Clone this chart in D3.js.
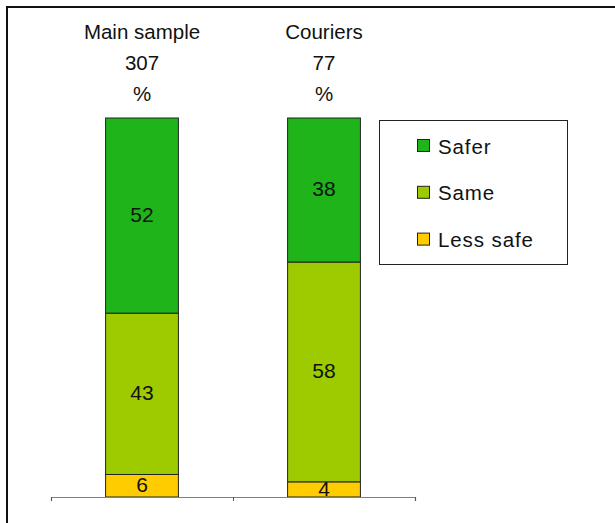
<!DOCTYPE html>
<html>
<head>
<meta charset="utf-8">
<script src="https://cdn.jsdelivr.net/npm/d3@7/dist/d3.min.js"></script>
<style>
  html, body { margin: 0; padding: 0; background: #fff; }
  svg { display: block; font-family: "Liberation Sans", Arial, sans-serif; }
</style>
</head>
<body>
<svg id="chart" width="615" height="523"></svg>
<script>
// Groups shown along the category axis
const groups = ["Main sample", "Couriers"];
const groupBase = ["307", "77"];
// Answer categories, stacked bottom to top
const answers = ["Less safe", "Same", "Safer"];
// Percentages per group, in the order of `answers`
const lessSafe = [6, 4];
const same = [43, 58];
const safer = [52, 38];
const colors = ["#FFCC00", "#9DCB00", "#1FB419"];

const rows = groups.map((g, i) => ({
  group: g,
  "Less safe": lessSafe[i],
  "Same": same[i],
  "Safer": safer[i]
}));

const svg = d3.select("#chart");

// Outer frame
svg.append("rect")
  .attr("x", 7).attr("y", 7)
  .attr("width", 700).attr("height", 600)
  .attr("fill", "#fff")
  .attr("stroke", "#111").attr("stroke-width", 2);

const x = d3.scaleBand().domain(groups).range([51, 415]).paddingInner(0).paddingOuter(0);
const y = d3.scaleLinear().domain([0, 1]).range([497, 118]);
const color = d3.scaleOrdinal().domain(answers).range(colors);

// 100% stacked layout
const series = d3.stack().keys(answers).offset(d3.stackOffsetExpand)(rows);
const barW = x.bandwidth() * 0.4;

const layers = svg.append("g").selectAll("g")
  .data(series).join("g")
  .attr("fill", d => color(d.key));

layers.selectAll("rect")
  .data(d => d.map(p => ({ p, key: d.key })))
  .join("rect")
  .attr("x", d => x(d.p.data.group) + (x.bandwidth() - barW) / 2)
  .attr("y", d => y(d.p[1]))
  .attr("width", barW)
  .attr("height", d => y(d.p[0]) - y(d.p[1]))
  .attr("stroke", "#222")
  .attr("stroke-width", 1);

// Segment value labels
layers.selectAll("text")
  .data(d => d.map(p => ({ p, key: d.key })))
  .join("text")
  .attr("x", d => x(d.p.data.group) + x.bandwidth() / 2)
  .attr("y", d => (y(d.p[0]) + y(d.p[1])) / 2)
  .attr("dy", "0.3em")
  .attr("text-anchor", "middle")
  .attr("fill", "#111")
  .attr("font-size", 21)
  .text(d => d.p.data[d.key]);

// Category axis with ticks between categories
const xt = d3.scaleLinear().domain([0, groups.length]).range(x.range());
const axis = svg.append("g")
  .attr("transform", "translate(0,497)")
  .call(d3.axisBottom(xt).tickValues(d3.range(groups.length + 1)).tickSize(4).tickFormat(""));
axis.select(".domain").attr("stroke", "#808080").attr("stroke-width", 1.2);
axis.selectAll(".tick line").attr("stroke", "#555");

// Group headers: name, base size, unit
const header = svg.append("g").selectAll("g")
  .data(groups).join("g")
  .attr("transform", g => `translate(${x(g) + x.bandwidth() / 2},0)`);
header.each(function(g, i) {
  const sel = d3.select(this);
  [g, groupBase[i], "%"].forEach((t, k) => {
    sel.append("text")
      .attr("y", 39 + k * 31)
      .attr("text-anchor", "middle")
      .attr("fill", "#111")
      .attr("font-size", 20.5)
      .text(t);
  });
});

// Legend
const legend = svg.append("g");
legend.append("rect")
  .attr("x", 379.5).attr("y", 120.5)
  .attr("width", 188).attr("height", 144)
  .attr("fill", "#fff").attr("stroke", "#222").attr("stroke-width", 1);
const legendOrder = ["Safer", "Same", "Less safe"];
const li = legend.selectAll("g.item")
  .data(legendOrder).join("g")
  .attr("class", "item")
  .attr("transform", (d, i) => `translate(0,${139 + i * 46.8})`);
li.append("rect")
  .attr("x", 417.5).attr("y", 0.5)
  .attr("width", 12).attr("height", 12)
  .attr("fill", d => color(d))
  .attr("stroke", "#222").attr("stroke-width", 1);
li.append("text")
  .attr("x", 438)
  .attr("y", 14.5)
  .attr("fill", "#111")
  .attr("font-size", 20.5)
  .attr("letter-spacing", 0.9)
  .text(d => d);
</script>
</body>
</html>
